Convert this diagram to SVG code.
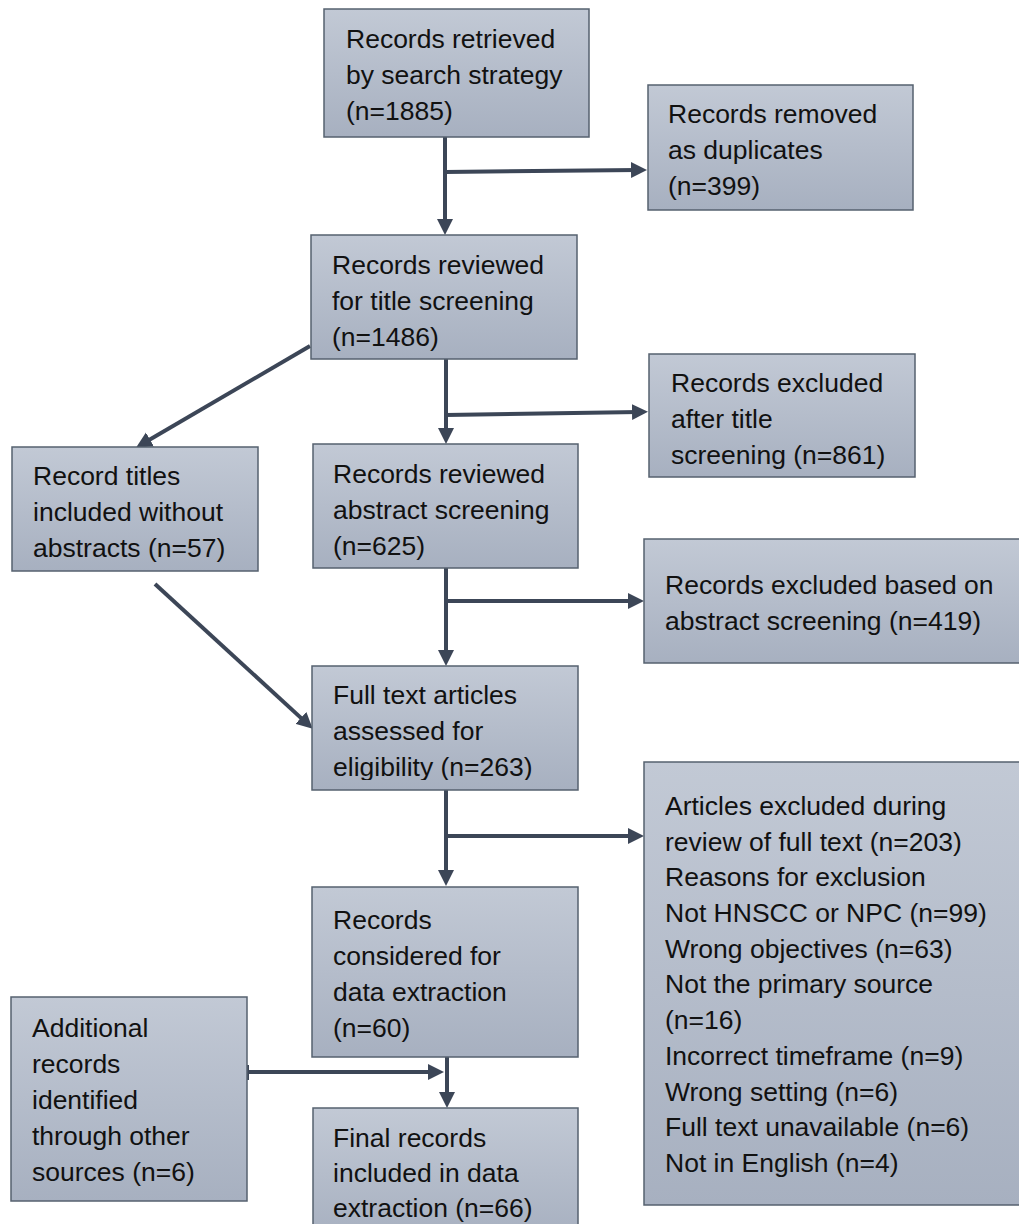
<svg xmlns="http://www.w3.org/2000/svg" width="1019" height="1224" viewBox="0 0 1019 1224">
<defs>
<linearGradient id="g" x1="0" y1="0" x2="0" y2="1">
<stop offset="0" stop-color="#c2c9d5"/>
<stop offset="1" stop-color="#a7b0c0"/>
</linearGradient>
<marker id="ah" markerWidth="17" markerHeight="17" refX="7" refY="8.5" orient="auto" markerUnits="userSpaceOnUse">
<path d="M0,0.5 L16,8.5 L0,16.5 z" fill="#3c4657"/>
</marker>
<clipPath id="c4"><rect x="312" y="666" width="266" height="114"/></clipPath>
</defs>
<style>
.box{fill:url(#g);stroke:#56616f;stroke-width:1.5}
.t{font-family:"Liberation Sans",Arial,sans-serif;font-size:26.5px;fill:#111}
.c{stroke:#3c4657;stroke-width:4;fill:none}
.ca{stroke:#3c4657;stroke-width:4;fill:none;marker-end:url(#ah)}
</style>
<rect width="1019" height="1224" fill="#fff"/>
<g id="connectors">
<line class="ca" x1="445" y1="137" x2="445" y2="226"/>
<line class="ca" x1="445" y1="172" x2="638" y2="170"/>
<line class="ca" x1="446" y1="359" x2="446" y2="435"/>
<line class="ca" x1="446" y1="415" x2="639" y2="412"/>
<line class="ca" x1="310" y1="346" x2="143.9" y2="443"/>
<line class="ca" x1="155" y1="584" x2="306.1" y2="722.6"/>
<line class="ca" x1="446" y1="568" x2="446" y2="657"/>
<line class="ca" x1="446" y1="601" x2="635" y2="601"/>
<line class="ca" x1="446" y1="790" x2="446" y2="877"/>
<line class="ca" x1="446" y1="836" x2="635" y2="836"/>
<line class="ca" x1="447" y1="1057" x2="447" y2="1099"/>
<line class="ca" x1="247" y1="1072" x2="435" y2="1072"/>
<line class="c" x1="247" y1="1065" x2="247" y2="1080"/>
</g>
<g id="n1">
<rect class="box" x="324" y="9" width="265" height="128"/>
<text class="t" x="346" y="48">Records retrieved</text>
<text class="t" x="346" y="84">by search strategy</text>
<text class="t" x="346" y="120">(n=1885)</text>
</g>
<g id="n2">
<rect class="box" x="648" y="85" width="265" height="125"/>
<text class="t" x="668" y="123">Records removed</text>
<text class="t" x="668" y="159">as duplicates</text>
<text class="t" x="668" y="195">(n=399)</text>
</g>
<g id="n3">
<rect class="box" x="311" y="235" width="266" height="124"/>
<text class="t" x="332" y="274">Records reviewed</text>
<text class="t" x="332" y="310">for title screening</text>
<text class="t" x="332" y="346">(n=1486)</text>
</g>
<g id="n4">
<rect class="box" x="649" y="354" width="266" height="123"/>
<text class="t" x="671" y="392">Records excluded</text>
<text class="t" x="671" y="428">after title</text>
<text class="t" x="671" y="464">screening (n=861)</text>
</g>
<g id="n5">
<rect class="box" x="12" y="447" width="246" height="124"/>
<text class="t" x="33" y="485">Record titles</text>
<text class="t" x="33" y="521">included without</text>
<text class="t" x="33" y="557">abstracts (n=57)</text>
</g>
<g id="n6">
<rect class="box" x="313" y="444" width="265" height="124"/>
<text class="t" x="333" y="483">Records reviewed</text>
<text class="t" x="333" y="519">abstract screening</text>
<text class="t" x="333" y="555">(n=625)</text>
</g>
<g id="n7">
<rect class="box" x="644" y="539" width="376" height="124"/>
<text class="t" x="665" y="594">Records excluded based on</text>
<text class="t" x="665" y="630">abstract screening (n=419)</text>
</g>
<g id="n8">
<rect class="box" x="312" y="666" width="266" height="124"/>
<g clip-path="url(#c4)">
<text class="t" x="333" y="704">Full text articles</text>
<text class="t" x="333" y="740">assessed for</text>
<text class="t" x="333" y="776">eligibility (n=263)</text>
</g>
</g>
<g id="n9">
<rect class="box" x="644" y="762" width="376" height="443"/>
<text class="t" x="665" y="815">Articles excluded during</text>
<text class="t" x="665" y="851">review of full text (n=203)</text>
<text class="t" x="665" y="886">Reasons for exclusion</text>
<text class="t" x="665" y="922">Not HNSCC or NPC (n=99)</text>
<text class="t" x="665" y="958">Wrong objectives (n=63)</text>
<text class="t" x="665" y="993">Not the primary source</text>
<text class="t" x="665" y="1029">(n=16)</text>
<text class="t" x="665" y="1065">Incorrect timeframe (n=9)</text>
<text class="t" x="665" y="1101">Wrong setting (n=6)</text>
<text class="t" x="665" y="1136">Full text unavailable (n=6)</text>
<text class="t" x="665" y="1172">Not in English (n=4)</text>
</g>
<g id="n10">
<rect class="box" x="312" y="887" width="266" height="170"/>
<text class="t" x="333" y="929">Records</text>
<text class="t" x="333" y="965">considered for</text>
<text class="t" x="333" y="1001">data extraction</text>
<text class="t" x="333" y="1037">(n=60)</text>
</g>
<g id="n11">
<rect class="box" x="11" y="997" width="236" height="204"/>
<text class="t" x="32" y="1037">Additional</text>
<text class="t" x="32" y="1073">records</text>
<text class="t" x="32" y="1109">identified</text>
<text class="t" x="32" y="1145">through other</text>
<text class="t" x="32" y="1181">sources (n=6)</text>
</g>
<g id="n12">
<rect class="box" x="313" y="1108" width="265" height="130"/>
<text class="t" x="333" y="1147">Final records</text>
<text class="t" x="333" y="1182">included in data</text>
<text class="t" x="333" y="1217">extraction (n=66)</text>
</g>
</svg>
